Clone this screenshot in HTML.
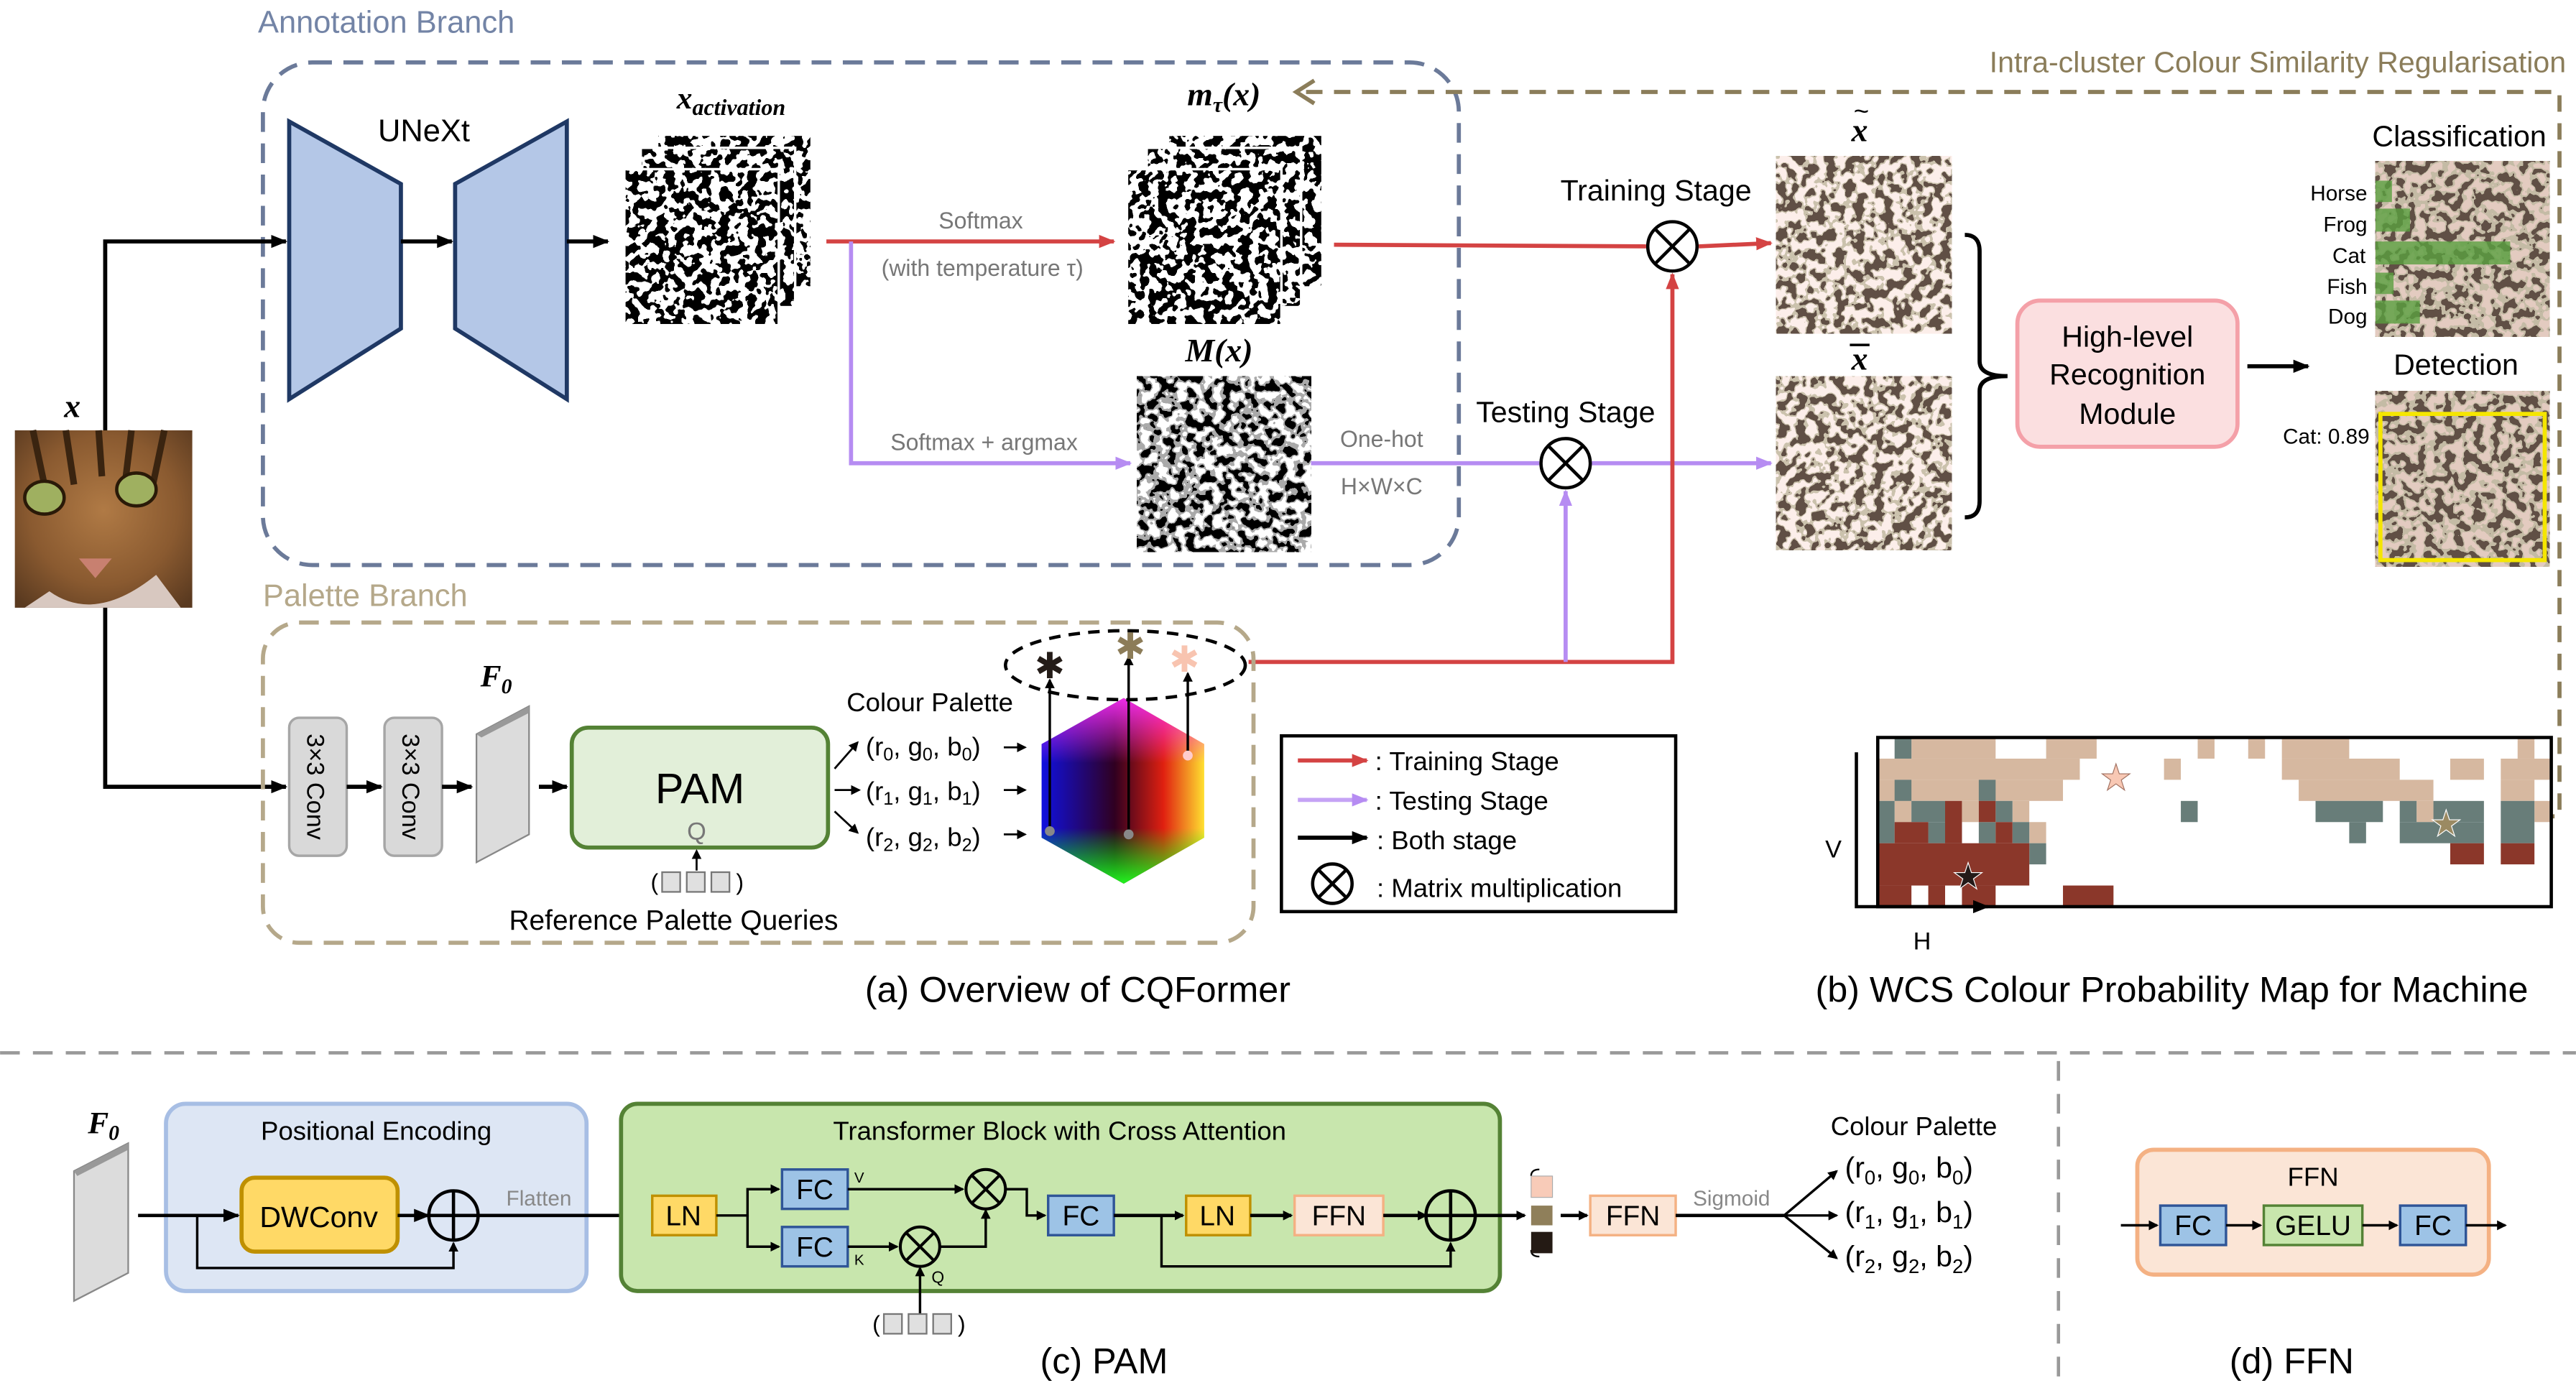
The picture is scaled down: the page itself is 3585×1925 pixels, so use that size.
<!DOCTYPE html>
<html><head><meta charset="utf-8"><style>
html,body{margin:0;padding:0;background:#fff;}
svg{display:block;}
text{font-family:"Liberation Sans","DejaVu Sans",sans-serif;}
.it{font-family:"Liberation Serif",serif;font-style:italic;font-weight:bold;}
</style></head><body>
<svg width="3585" height="1925" viewBox="0 0 1568 842" xmlns="http://www.w3.org/2000/svg">
<defs>
<marker id="ak" markerWidth="10" markerHeight="10" refX="9" refY="5" orient="auto" markerUnits="userSpaceOnUse"><path d="M0,1 L10,5 L0,9z" fill="#000"/></marker>
<marker id="ar" markerWidth="10" markerHeight="10" refX="9" refY="5" orient="auto" markerUnits="userSpaceOnUse"><path d="M0,1 L10,5 L0,9z" fill="#d44343"/></marker>
<marker id="ap" markerWidth="10" markerHeight="10" refX="9" refY="5" orient="auto" markerUnits="userSpaceOnUse"><path d="M0,1 L10,5 L0,9z" fill="#b68cf2"/></marker>
<marker id="as" markerWidth="6" markerHeight="6" refX="5" refY="3" orient="auto" markerUnits="userSpaceOnUse"><path d="M0,0 L6,3 L0,6z" fill="#000"/></marker>
<filter id="bw" x="0" y="0" width="1" height="1"><feTurbulence type="fractalNoise" baseFrequency="0.18" numOctaves="2" seed="4"/><feColorMatrix values="3 0 0 0 -1 3 0 0 0 -1 3 0 0 0 -1 0 0 0 0 1"/><feComponentTransfer><feFuncR type="discrete" tableValues="0 1"/><feFuncG type="discrete" tableValues="0 1"/><feFuncB type="discrete" tableValues="0 1"/></feComponentTransfer></filter>
<filter id="g3" x="0" y="0" width="1" height="1"><feTurbulence type="fractalNoise" baseFrequency="0.18" numOctaves="2" seed="7"/><feColorMatrix values="3 0 0 0 -1 3 0 0 0 -1 3 0 0 0 -1 0 0 0 0 1"/><feComponentTransfer><feFuncR type="discrete" tableValues="0 0.4 1"/><feFuncG type="discrete" tableValues="0 0.4 1"/><feFuncB type="discrete" tableValues="0 0.4 1"/></feComponentTransfer></filter>
<filter id="t1" x="0" y="0" width="1" height="1"><feTurbulence type="fractalNoise" baseFrequency="0.17" numOctaves="2" seed="9"/><feColorMatrix values="3 0 0 0 -1.1 3 0 0 0 -1.1 3 0 0 0 -1.1 0 0 0 0 1"/><feComponentTransfer><feFuncR type="discrete" tableValues="0.12 0.6 0.98 0.98"/><feFuncG type="discrete" tableValues="0.08 0.54 0.86 0.86"/><feFuncB type="discrete" tableValues="0.06 0.42 0.82 0.82"/></feComponentTransfer></filter>
<filter id="t2" x="0" y="0" width="1" height="1"><feTurbulence type="fractalNoise" baseFrequency="0.17" numOctaves="2" seed="11"/><feColorMatrix values="3 0 0 0 -1 3 0 0 0 -1 3 0 0 0 -1 0 0 0 0 1"/><feComponentTransfer><feFuncR type="discrete" tableValues="0.12 0.55 0.77"/><feFuncG type="discrete" tableValues="0.08 0.5 0.6"/><feFuncB type="discrete" tableValues="0.06 0.38 0.53"/></feComponentTransfer></filter>
<radialGradient id="cat" cx="0.5" cy="0.45" r="0.7"><stop offset="0" stop-color="#b07a45"/><stop offset="0.6" stop-color="#8a5a30"/><stop offset="1" stop-color="#5a3a20"/></radialGradient>
<linearGradient id="hx" x1="0" y1="0" x2="1" y2="0"><stop offset="0" stop-color="#1010e0"/><stop offset="0.45" stop-color="#300020"/><stop offset="0.75" stop-color="#e02010"/><stop offset="1" stop-color="#ffe030"/></linearGradient>
<linearGradient id="hv" x1="0" y1="0" x2="0" y2="1"><stop offset="0" stop-color="#ff30ff" stop-opacity="0.9"/><stop offset="0.35" stop-color="#ff30ff" stop-opacity="0"/><stop offset="0.7" stop-color="#00ff00" stop-opacity="0"/><stop offset="1" stop-color="#20ff20" stop-opacity="0.95"/></linearGradient>
</defs>

<text x="157" y="20" font-size="19" fill="#7384a6">Annotation Branch</text>
<rect x="160" y="38" width="728" height="306" rx="30" fill="none" stroke="#6b7a99" stroke-width="2.5" stroke-dasharray="12,7"/>
<polygon points="176,74 244,112 244,200 176,243" fill="#b4c7e7" stroke="#1f3864" stroke-width="2.5"/>
<polygon points="277,112 345,74 345,243 277,200" fill="#b4c7e7" stroke="#1f3864" stroke-width="2.5"/>
<text x="258" y="86" font-size="19" text-anchor="middle">UNeXt</text>
<polyline points="64,262 64,147 174,147" fill="none" stroke="#000" stroke-width="2.5" marker-end="url(#ak)"/>
<line x1="244" y1="147" x2="275" y2="147" stroke="#000" stroke-width="2.5" marker-end="url(#ak)"/>
<line x1="345" y1="147" x2="370" y2="147" stroke="#000" stroke-width="2.5" marker-end="url(#ak)"/>

<text x="445" y="66" font-size="19" text-anchor="middle" class="it">x<tspan font-size="14" dy="4">activation</tspan></text>
<rect x="400" y="82" width="94" height="93" fill="#fff" filter="url(#bw)"/>
<rect x="400" y="82" width="94" height="93" fill="none" stroke="#fff" stroke-width="1.5"/>
<rect x="390" y="90" width="94" height="97" fill="#fff" filter="url(#bw)"/>
<rect x="390" y="90" width="94" height="97" fill="none" stroke="#fff" stroke-width="1.5"/>
<rect x="380" y="103" width="94" height="95" fill="#fff" filter="url(#bw)"/>
<rect x="380" y="103" width="94" height="95" fill="none" stroke="#fff" stroke-width="1.5"/>

<line x1="503" y1="147" x2="678" y2="147" stroke="#d44343" stroke-width="2.5" marker-end="url(#ar)"/>
<text x="597" y="139" font-size="14" fill="#777" text-anchor="middle">Softmax</text>
<text x="598" y="168" font-size="14" fill="#777" text-anchor="middle">(with temperature τ)</text>
<polyline points="518,147 518,282 688,282" fill="none" stroke="#b68cf2" stroke-width="2.5" marker-end="url(#ap)"/>
<text x="599" y="274" font-size="14" fill="#777" text-anchor="middle">Softmax + argmax</text>

<text x="745" y="64" font-size="20" text-anchor="middle" class="it">m<tspan font-size="13" dy="4">τ</tspan><tspan dy="-4">(x)</tspan></text>
<rect x="711" y="82" width="94" height="93" fill="#fff" filter="url(#bw)"/>
<rect x="711" y="82" width="94" height="93" fill="none" stroke="#fff" stroke-width="1.5"/>
<rect x="698" y="90" width="94" height="97" fill="#fff" filter="url(#bw)"/>
<rect x="698" y="90" width="94" height="97" fill="none" stroke="#fff" stroke-width="1.5"/>
<rect x="686" y="103" width="94" height="95" fill="#fff" filter="url(#bw)"/>
<rect x="686" y="103" width="94" height="95" fill="none" stroke="#fff" stroke-width="1.5"/>
<text x="742" y="220" font-size="20" text-anchor="middle" class="it">M(x)</text>
<rect x="692" y="229" width="106" height="107" fill="#fff" filter="url(#g3)"/>
<text x="841" y="272" font-size="14" fill="#777" text-anchor="middle">One-hot</text>
<text x="841" y="301" font-size="14" fill="#777" text-anchor="middle">H×W×C</text>

<text x="1008" y="122" font-size="18" text-anchor="middle">Training Stage</text>
<text x="953" y="257" font-size="18" text-anchor="middle">Testing Stage</text>
<line x1="812" y1="149" x2="1002" y2="150" stroke="#d44343" stroke-width="2.5"/>
<line x1="1034" y1="150" x2="1078" y2="148" stroke="#d44343" stroke-width="2.5" marker-end="url(#ar)"/>
<circle cx="1018" cy="150" r="15" fill="#fff" stroke="#000" stroke-width="2"/>
<path d="M1007,139 L1029,161 M1029,139 L1007,161" stroke="#000" stroke-width="2"/>
<line x1="798" y1="282" x2="937" y2="282" stroke="#b68cf2" stroke-width="2.5"/>
<line x1="969" y1="282" x2="1078" y2="282" stroke="#b68cf2" stroke-width="2.5" marker-end="url(#ap)"/>
<circle cx="953" cy="282" r="15" fill="#fff" stroke="#000" stroke-width="2"/>
<path d="M942,271 L964,293 M964,271 L942,293" stroke="#000" stroke-width="2"/>
<polyline points="760,403 1018,403 1018,167" fill="none" stroke="#d44343" stroke-width="2.5" marker-end="url(#ar)"/>
<line x1="953" y1="403" x2="953" y2="299" stroke="#b68cf2" stroke-width="2.5" marker-end="url(#ap)"/>

<text x="1132" y="86" font-size="20" text-anchor="middle" class="it">x</text>
<text x="1133" y="73" font-size="16" text-anchor="middle">~</text>
<rect x="1081" y="95" width="107" height="108" fill="#fff" filter="url(#t1)"/>
<text x="1132" y="225" font-size="20" text-anchor="middle" class="it">x</text>
<line x1="1126" y1="210" x2="1138" y2="210" stroke="#000" stroke-width="1.5"/>
<rect x="1081" y="229" width="107" height="106" fill="#fff" filter="url(#t1)"/>
<path d="M1196,143 Q1205,143 1205,153 L1205,220 Q1205,229 1222,229 Q1205,229 1205,238 L1205,305 Q1205,315 1196,315" fill="none" stroke="#000" stroke-width="2.5"/>
<rect x="1228" y="183" width="134" height="89" rx="14" fill="#fbdfe0" stroke="#f4a0a8" stroke-width="2.5"/>
<text x="1295" y="211" font-size="18" text-anchor="middle">High-level</text>
<text x="1295" y="234" font-size="18" text-anchor="middle">Recognition</text>
<text x="1295" y="258" font-size="18" text-anchor="middle">Module</text>
<line x1="1368" y1="223" x2="1405" y2="223" stroke="#000" stroke-width="2.5" marker-end="url(#ak)"/>
<text x="1497" y="89" font-size="18" text-anchor="middle">Classification</text>
<rect x="1446" y="98" width="106" height="107" fill="#fff" filter="url(#t2)"/>
<g fill="#5aa040" opacity="0.8">
<rect x="1446" y="110" width="10" height="13"/><rect x="1446" y="127" width="21" height="14"/><rect x="1446" y="147" width="82" height="14"/><rect x="1446" y="166" width="11" height="13"/><rect x="1446" y="183" width="27" height="14"/></g>
<g font-size="13" text-anchor="end"><text x="1441" y="122">Horse</text><text x="1441" y="141">Frog</text><text x="1440" y="160">Cat</text><text x="1441" y="179">Fish</text><text x="1441" y="197">Dog</text></g>
<text x="1495" y="228" font-size="18" text-anchor="middle">Detection</text>
<rect x="1446" y="238" width="106" height="107" fill="#fff" filter="url(#t2)"/>
<rect x="1449" y="252" width="100" height="89" fill="none" stroke="#f5e600" stroke-width="2.5"/>
<text x="1416" y="270" font-size="13" text-anchor="middle">Cat: 0.89</text>

<text x="1562" y="44" font-size="18" fill="#8b7d5a" text-anchor="end">Intra-cluster Colour Similarity Regularisation</text>
<polyline points="1545,497 1558,497 1558,56 792,56" fill="none" stroke="#8b7d5a" stroke-width="2.5" stroke-dasharray="10,7"/>
<path d="M800,49 L789,56 L800,63" fill="none" stroke="#8b7d5a" stroke-width="2.5"/>

<text x="44" y="254" font-size="20" text-anchor="middle" class="it">x</text>
<rect x="9" y="262" width="108" height="108" fill="url(#cat)"/>
<path d="M20,262 L28,300 M40,262 L45,295 M60,262 L62,290 M80,262 L76,295 M100,262 L92,300" stroke="#3a2410" stroke-width="4"/>
<ellipse cx="27" cy="303" rx="12" ry="10" fill="#9fb060" stroke="#2a1a08" stroke-width="2"/>
<ellipse cx="83" cy="298" rx="12" ry="10" fill="#9fb060" stroke="#2a1a08" stroke-width="2"/>
<path d="M48,340 L68,340 L58,352z" fill="#c88070"/>
<path d="M30,360 Q58,380 95,350 L110,370 L15,370z" fill="#d8c8c0"/>
<polyline points="64,370 64,479 174,479" fill="none" stroke="#000" stroke-width="2.5" marker-end="url(#ak)"/>

<text x="160" y="369" font-size="19" fill="#b5a88a">Palette Branch</text>
<rect x="160" y="379" width="603" height="195" rx="22" fill="none" stroke="#b5a88a" stroke-width="2.5" stroke-dasharray="12,7"/>
<rect x="176" y="437" width="35" height="84" rx="6" fill="#d9d9d9" stroke="#a6a6a6" stroke-width="1.5"/>
<rect x="234" y="437" width="35" height="84" rx="6" fill="#d9d9d9" stroke="#a6a6a6" stroke-width="1.5"/>
<text transform="translate(187,479) rotate(90)" font-size="15" text-anchor="middle">3×3 Conv</text>
<text transform="translate(245,479) rotate(90)" font-size="15" text-anchor="middle">3×3 Conv</text>
<line x1="211" y1="479" x2="232" y2="479" stroke="#000" stroke-width="2.5" marker-end="url(#ak)"/>
<line x1="269" y1="479" x2="287" y2="479" stroke="#000" stroke-width="2.5" marker-end="url(#ak)"/>
<polygon points="290,447 322,430 322,508 290,525" fill="#dcdcdc" stroke="#888"/>
<polygon points="290,447 322,430 322,434 293,449" fill="#999"/>
<text x="302" y="418" font-size="19" text-anchor="middle" class="it">F<tspan font-size="13" dy="4">0</tspan></text>
<line x1="328" y1="479" x2="345" y2="479" stroke="#000" stroke-width="2.5" marker-end="url(#ak)"/>
<rect x="348" y="443" width="156" height="73" rx="10" fill="#e2efd9" stroke="#548235" stroke-width="2.5"/>
<text x="426" y="489" font-size="26" text-anchor="middle">PAM</text>
<text x="424" y="511" font-size="15" fill="#777" text-anchor="middle">Q</text>
<line x1="424" y1="530" x2="424" y2="518" stroke="#000" stroke-width="1.2" marker-end="url(#as)"/>
<text x="396" y="542" font-size="14">(</text>
<rect x="403" y="531" width="11" height="12" fill="#e0e0e0" stroke="#777"/><rect x="418" y="531" width="11" height="12" fill="#e0e0e0" stroke="#777"/><rect x="433" y="531" width="11" height="12" fill="#e0e0e0" stroke="#777"/>
<text x="448" y="542" font-size="14">)</text>
<text x="410" y="566" font-size="17" text-anchor="middle">Reference Palette Queries</text>
<text x="566" y="433" font-size="16" text-anchor="middle">Colour Palette</text>
<g font-size="16">
<text x="527" y="460" font-family="Liberation Serif,serif">(r<tspan font-size="11" dy="3">0</tspan><tspan dy="-3">, g</tspan><tspan font-size="11" dy="3">0</tspan><tspan dy="-3">, b</tspan><tspan font-size="11" dy="3">0</tspan><tspan dy="-3">)</tspan></text>
<text x="527" y="487" font-family="Liberation Serif,serif">(r<tspan font-size="11" dy="3">1</tspan><tspan dy="-3">, g</tspan><tspan font-size="11" dy="3">1</tspan><tspan dy="-3">, b</tspan><tspan font-size="11" dy="3">1</tspan><tspan dy="-3">)</tspan></text>
<text x="527" y="515" font-family="Liberation Serif,serif">(r<tspan font-size="11" dy="3">2</tspan><tspan dy="-3">, g</tspan><tspan font-size="11" dy="3">2</tspan><tspan dy="-3">, b</tspan><tspan font-size="11" dy="3">2</tspan><tspan dy="-3">)</tspan></text>
</g>
<line x1="508" y1="468" x2="522" y2="452" stroke="#000" stroke-width="1.2" marker-end="url(#as)"/>
<line x1="508" y1="481" x2="523" y2="481" stroke="#000" stroke-width="1.2" marker-end="url(#as)"/>
<line x1="508" y1="494" x2="522" y2="507" stroke="#000" stroke-width="1.2" marker-end="url(#as)"/>
<line x1="611" y1="455" x2="624" y2="455" stroke="#000" stroke-width="1.2" marker-end="url(#as)"/>
<line x1="611" y1="481" x2="624" y2="481" stroke="#000" stroke-width="1.2" marker-end="url(#as)"/>
<line x1="611" y1="508" x2="624" y2="508" stroke="#000" stroke-width="1.2" marker-end="url(#as)"/>
<polygon points="684,425 733,453 733,510 684,538 634,510 634,453" fill="url(#hx)"/>
<polygon points="684,425 733,453 733,510 684,538 634,510 634,453" fill="url(#hv)"/>
<ellipse cx="685" cy="405" rx="73" ry="21" fill="none" stroke="#000" stroke-width="2" stroke-dasharray="7,5"/>
<line x1="639" y1="506" x2="639" y2="414" stroke="#000" stroke-width="1.5" marker-end="url(#as)"/>
<line x1="687" y1="508" x2="687" y2="400" stroke="#000" stroke-width="1.5" marker-end="url(#as)"/>
<line x1="723" y1="460" x2="723" y2="410" stroke="#000" stroke-width="1.5" marker-end="url(#as)"/>
<circle cx="639" cy="506" r="3" fill="#888"/><circle cx="687" cy="508" r="3" fill="#888"/><circle cx="723" cy="460" r="3" fill="#fcc"/>
<text x="639" y="413" font-size="22" fill="#241c18" text-anchor="middle" font-weight="bold">✱</text>
<text x="688" y="401" font-size="22" fill="#8c7c58" text-anchor="middle" font-weight="bold">✱</text>
<text x="721" y="409" font-size="22" fill="#f8c4b0" text-anchor="middle" font-weight="bold">✱</text>

<rect x="780" y="448" width="240" height="107" fill="#fff" stroke="#000" stroke-width="2"/>
<line x1="790" y1="463" x2="832" y2="463" stroke="#d44343" stroke-width="2.5" marker-end="url(#ar)"/>
<line x1="790" y1="487" x2="832" y2="487" stroke="#c5a3f5" stroke-width="2.5" marker-end="url(#ap)"/>
<line x1="790" y1="510" x2="832" y2="510" stroke="#000" stroke-width="2.5" marker-end="url(#ak)"/>
<g font-size="16"><text x="837" y="469">: Training Stage</text><text x="837" y="493">: Testing Stage</text><text x="838" y="517">: Both stage</text><text x="838" y="546">: Matrix multiplication</text></g>
<ellipse cx="811" cy="538" rx="12" ry="12" fill="none" stroke="#000" stroke-width="2"/>
<path d="M803,530 L819,546 M819,530 L803,546" stroke="#000" stroke-width="2"/>

<svg x="1143" y="449" width="410" height="103" viewBox="0 0 40 8" preserveAspectRatio="none">
<g fill="#d6b8a0">
<rect x="2" y="0" width="5" height="1"/><rect x="10" y="0" width="3" height="1"/><rect x="19" y="0" width="1" height="1"/><rect x="22" y="0" width="1" height="1"/><rect x="24" y="0" width="4" height="1"/><rect x="38" y="0" width="1" height="1"/>
<rect x="0" y="1" width="12" height="1"/><rect x="17" y="1" width="1" height="1"/><rect x="24" y="1" width="7" height="1"/><rect x="34" y="1" width="2" height="1"/><rect x="37" y="1" width="3" height="1"/>
<rect x="0" y="2" width="11" height="1"/><rect x="25" y="2" width="8" height="1"/><rect x="37" y="2" width="2" height="1"/>
<rect x="1" y="3" width="1" height="1"/><rect x="5" y="3" width="1" height="1"/><rect x="8" y="3" width="1" height="1"/><rect x="32" y="3" width="1" height="1"/><rect x="39" y="3" width="1" height="1"/>
<rect x="9" y="4" width="1" height="1"/></g>
<g fill="#687d79">
<rect x="1" y="0" width="1" height="1"/><rect x="1" y="2" width="1" height="1"/><rect x="6" y="2" width="1" height="1"/>
<rect x="0" y="3" width="1" height="2"/><rect x="2" y="3" width="2" height="1"/><rect x="7" y="3" width="1" height="1"/><rect x="18" y="3" width="1" height="1"/><rect x="26" y="3" width="4" height="1"/><rect x="31" y="3" width="1" height="1"/><rect x="33" y="3" width="3" height="1"/><rect x="37" y="3" width="2" height="2"/>
<rect x="3" y="4" width="2" height="1"/><rect x="6" y="4" width="1" height="1"/><rect x="8" y="4" width="1" height="1"/><rect x="28" y="4" width="1" height="1"/><rect x="31" y="4" width="5" height="1"/><rect x="9" y="5" width="1" height="1"/></g>
<g fill="#8b372a">
<rect x="4" y="3" width="1" height="2"/><rect x="6" y="3" width="1" height="1"/><rect x="1" y="4" width="2" height="1"/><rect x="7" y="4" width="1" height="1"/>
<rect x="0" y="5" width="9" height="2"/><rect x="34" y="5" width="2" height="1"/><rect x="37" y="5" width="2" height="1"/>
<rect x="0" y="7" width="2" height="1"/><rect x="3" y="7" width="1" height="1"/><rect x="5" y="7" width="2" height="1"/><rect x="11" y="7" width="3" height="1"/></g>
</svg>
<rect x="1143" y="449" width="410" height="103" fill="none" stroke="#000" stroke-width="2"/>
<text x="1288" y="481" font-size="22" fill="#f8c8b4" stroke="#a07060" stroke-width="0.5" text-anchor="middle">★</text>
<text x="1489" y="509" font-size="22" fill="#9b8a62" stroke="#fff" stroke-width="0.5" text-anchor="middle">★</text>
<text x="1198" y="541" font-size="22" fill="#241a18" stroke="#fff" stroke-width="0.5" text-anchor="middle">★</text>
<polyline points="1130,458 1130,552 1210,552" fill="none" stroke="#000" stroke-width="2" marker-end="url(#ak)"/>
<text x="1116" y="522" font-size="15" text-anchor="middle">V</text>
<text x="1170" y="578" font-size="15" text-anchor="middle">H</text>

<text x="656" y="610" font-size="22" text-anchor="middle">(a) Overview of CQFormer</text>
<text x="1322" y="610" font-size="22" text-anchor="middle">(b) WCS  Colour Probability Map for Machine</text>

<line x1="0" y1="641" x2="1568" y2="641" stroke="#999" stroke-width="2" stroke-dasharray="12,8"/>
<line x1="1253" y1="646" x2="1253" y2="842" stroke="#999" stroke-width="2" stroke-dasharray="12,8"/>

<text x="63" y="690" font-size="19" text-anchor="middle" class="it">F<tspan font-size="13" dy="4">0</tspan></text>
<polygon points="45,713 78,696 78,775 45,792" fill="#dcdcdc" stroke="#888"/>
<polygon points="45,713 78,696 78,700 47,716" fill="#999"/>
<rect x="101" y="672" width="256" height="114" rx="12" fill="#dde6f4" stroke="#a7bee4" stroke-width="2.5"/>
<text x="229" y="694" font-size="16" text-anchor="middle">Positional Encoding</text>
<rect x="147" y="717" width="95" height="45" rx="8" fill="#ffd966" stroke="#bf9000" stroke-width="2.5"/>
<text x="194" y="747" font-size="18" text-anchor="middle">DWConv</text>
<line x1="84" y1="740" x2="145" y2="740" stroke="#000" stroke-width="2" marker-end="url(#ak)"/>
<polyline points="120,740 120,772 276,772 276,757" fill="none" stroke="#000" stroke-width="1.5" marker-end="url(#as)"/>
<line x1="242" y1="740" x2="261" y2="740" stroke="#000" stroke-width="2" marker-end="url(#ak)"/>
<circle cx="276" cy="740" r="15" fill="none" stroke="#000" stroke-width="2"/>
<path d="M261,740 H291 M276,725 V755" stroke="#000" stroke-width="2"/>
<text x="328" y="734" font-size="13" fill="#888" text-anchor="middle">Flatten</text>
<line x1="291" y1="740" x2="395" y2="740" stroke="#000" stroke-width="2" marker-end="url(#ak)"/>

<rect x="378" y="672" width="535" height="114" rx="10" fill="#c8e6ad" stroke="#548235" stroke-width="2.5"/>
<text x="645" y="694" font-size="16" text-anchor="middle">Transformer Block with Cross Attention</text>
<rect x="397" y="728" width="39" height="24" fill="#ffd966" stroke="#bf9000" stroke-width="1.5"/>
<text x="416" y="746" font-size="17" text-anchor="middle">LN</text>
<polyline points="436,740 455,740 455,724 474,724" fill="none" stroke="#000" stroke-width="1.5" marker-end="url(#as)"/>
<polyline points="455,740 455,759 474,759" fill="none" stroke="#000" stroke-width="1.5" marker-end="url(#as)"/>
<rect x="476" y="712" width="40" height="24" fill="#9dc3e6" stroke="#2f5597" stroke-width="1.5"/>
<rect x="476" y="747" width="40" height="24" fill="#9dc3e6" stroke="#2f5597" stroke-width="1.5"/>
<text x="496" y="730" font-size="17" text-anchor="middle">FC</text>
<text x="496" y="765" font-size="17" text-anchor="middle">FC</text>
<text x="520" y="720" font-size="9">V</text><text x="520" y="770" font-size="9">K</text>
<line x1="516" y1="724" x2="586" y2="724" stroke="#000" stroke-width="1.5" marker-end="url(#as)"/>
<line x1="516" y1="759" x2="546" y2="759" stroke="#000" stroke-width="1.5" marker-end="url(#as)"/>
<circle cx="600" cy="724" r="12" fill="none" stroke="#000" stroke-width="1.8"/><path d="M591.5,715.5 L608.5,732.5 M608.5,715.5 L591.5,732.5" stroke="#000" stroke-width="1.8"/>
<circle cx="560" cy="759" r="12" fill="none" stroke="#000" stroke-width="1.8"/><path d="M551.5,750.5 L568.5,767.5 M568.5,750.5 L551.5,767.5" stroke="#000" stroke-width="1.8"/>
<polyline points="572,759 600,759 600,737" fill="none" stroke="#000" stroke-width="1.5" marker-end="url(#as)"/>
<line x1="560" y1="800" x2="560" y2="772" stroke="#000" stroke-width="1.5" marker-end="url(#as)"/>
<text x="567" y="781" font-size="10">Q</text>
<text x="531" y="811" font-size="14">(</text>
<rect x="538" y="800" width="11" height="12" fill="#e0e0e0" stroke="#777"/><rect x="553" y="800" width="11" height="12" fill="#e0e0e0" stroke="#777"/><rect x="568" y="800" width="11" height="12" fill="#e0e0e0" stroke="#777"/>
<text x="583" y="811" font-size="14">)</text>
<polyline points="612,724 625,724 625,740 636,740" fill="none" stroke="#000" stroke-width="1.5" marker-end="url(#as)"/>
<rect x="638" y="728" width="40" height="24" fill="#9dc3e6" stroke="#2f5597" stroke-width="1.5"/>
<text x="658" y="746" font-size="17" text-anchor="middle">FC</text>
<line x1="678" y1="740" x2="720" y2="740" stroke="#000" stroke-width="2" marker-end="url(#as)"/>
<rect x="722" y="728" width="39" height="24" fill="#ffd966" stroke="#bf9000" stroke-width="1.5"/>
<text x="741" y="746" font-size="17" text-anchor="middle">LN</text>
<line x1="761" y1="740" x2="786" y2="740" stroke="#000" stroke-width="2" marker-end="url(#as)"/>
<rect x="788" y="728" width="54" height="24" fill="#fbe5d6" stroke="#f4b183" stroke-width="1.5"/>
<text x="815" y="746" font-size="17" text-anchor="middle">FFN</text>
<line x1="842" y1="740" x2="868" y2="740" stroke="#000" stroke-width="2" marker-end="url(#as)"/>
<polyline points="707,740 707,771 883,771 883,757" fill="none" stroke="#000" stroke-width="1.5" marker-end="url(#as)"/>
<circle cx="883" cy="740" r="15" fill="none" stroke="#000" stroke-width="2"/>
<path d="M868,740 H898 M883,725 V755" stroke="#000" stroke-width="2"/>
<line x1="898" y1="740" x2="928" y2="740" stroke="#000" stroke-width="2" marker-end="url(#as)"/>
<path d="M937,712 Q932,712 932,716 M937,765 Q932,765 932,761" fill="none" stroke="#000" stroke-width="1"/>
<rect x="932" y="716" width="13" height="13" fill="#f8cbb8" stroke="#aaa" stroke-width="0.5"/>
<rect x="932" y="734" width="13" height="12" fill="#8f7f5a"/>
<rect x="932" y="750" width="13" height="13" fill="#241a14"/>
<line x1="950" y1="740" x2="966" y2="740" stroke="#000" stroke-width="2" marker-end="url(#as)"/>
<rect x="968" y="728" width="52" height="24" fill="#fbe5d6" stroke="#f4b183" stroke-width="1.5"/>
<text x="994" y="746" font-size="17" text-anchor="middle">FFN</text>
<text x="1054" y="734" font-size="13" fill="#888" text-anchor="middle">Sigmoid</text>
<line x1="1020" y1="740" x2="1086" y2="740" stroke="#000" stroke-width="2"/>
<line x1="1086" y1="740" x2="1118" y2="713" stroke="#000" stroke-width="1.5" marker-end="url(#as)"/>
<line x1="1086" y1="740" x2="1118" y2="740" stroke="#000" stroke-width="1.5" marker-end="url(#as)"/>
<line x1="1086" y1="740" x2="1118" y2="766" stroke="#000" stroke-width="1.5" marker-end="url(#as)"/>
<text x="1165" y="691" font-size="16" text-anchor="middle">Colour Palette</text>
<text x="1123" y="717" font-size="18" font-family="Liberation Serif,serif">(r<tspan font-size="12" dy="4">0</tspan><tspan dy="-4">, g</tspan><tspan font-size="12" dy="4">0</tspan><tspan dy="-4">, b</tspan><tspan font-size="12" dy="4">0</tspan><tspan dy="-4">)</tspan></text>
<text x="1123" y="744" font-size="18" font-family="Liberation Serif,serif">(r<tspan font-size="12" dy="4">1</tspan><tspan dy="-4">, g</tspan><tspan font-size="12" dy="4">1</tspan><tspan dy="-4">, b</tspan><tspan font-size="12" dy="4">1</tspan><tspan dy="-4">)</tspan></text>
<text x="1123" y="771" font-size="18" font-family="Liberation Serif,serif">(r<tspan font-size="12" dy="4">2</tspan><tspan dy="-4">, g</tspan><tspan font-size="12" dy="4">2</tspan><tspan dy="-4">, b</tspan><tspan font-size="12" dy="4">2</tspan><tspan dy="-4">)</tspan></text>
<text x="672" y="836" font-size="22" text-anchor="middle">(c) PAM</text>

<rect x="1301" y="700" width="214" height="76" rx="10" fill="#fbe5d6" stroke="#f4b183" stroke-width="2.5"/>
<text x="1408" y="722" font-size="16" text-anchor="middle">FFN</text>
<line x1="1291" y1="746" x2="1313" y2="746" stroke="#000" stroke-width="1.5" marker-end="url(#as)"/>
<rect x="1315" y="734" width="40" height="24" fill="#9dc3e6" stroke="#2f5597" stroke-width="1.5"/>
<text x="1335" y="752" font-size="17" text-anchor="middle">FC</text>
<line x1="1355" y1="746" x2="1376" y2="746" stroke="#000" stroke-width="1.5" marker-end="url(#as)"/>
<rect x="1378" y="734" width="60" height="24" fill="#c8e6ad" stroke="#548235" stroke-width="1.5"/>
<text x="1408" y="752" font-size="17" text-anchor="middle">GELU</text>
<line x1="1438" y1="746" x2="1459" y2="746" stroke="#000" stroke-width="1.5" marker-end="url(#as)"/>
<rect x="1461" y="734" width="40" height="24" fill="#9dc3e6" stroke="#2f5597" stroke-width="1.5"/>
<text x="1481" y="752" font-size="17" text-anchor="middle">FC</text>
<line x1="1501" y1="746" x2="1525" y2="746" stroke="#000" stroke-width="1.5" marker-end="url(#as)"/>
<text x="1395" y="836" font-size="22" text-anchor="middle">(d) FFN</text>
</svg>
</body></html>
